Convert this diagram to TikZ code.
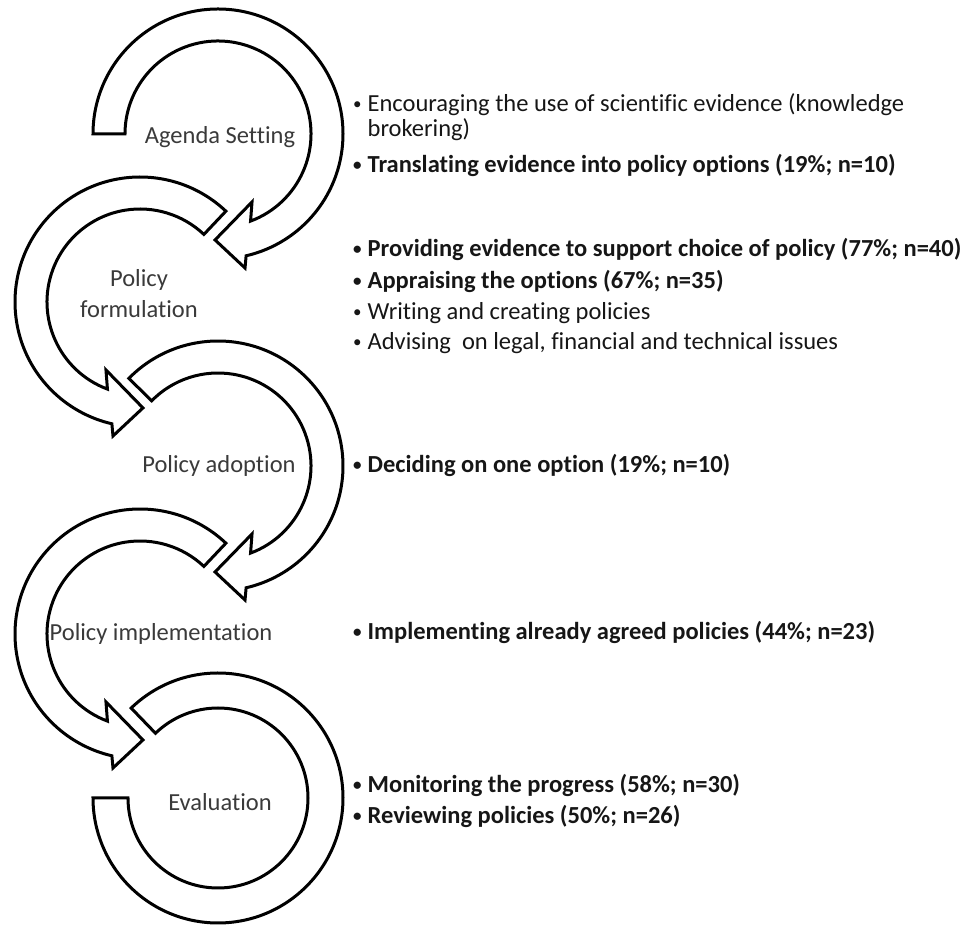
\documentclass[tikz,border=0pt]{standalone}
\usepackage{fontspec}
\setmainfont{Carlito}[Ligatures=NoCommon]
\usetikzlibrary{positioning}

\definecolor{labelgray}{HTML}{3A3A3A}
\definecolor{itemblack}{HTML}{161616}

% one circular arrow, centre at origin, running clockwise from #1
\newcommand{\cyclearrow}[1]{%
  (#1:125) arc[start angle=#1, end angle=-77, radius=125]
  -- (-78.6:136.7) -- (-91.6:106) -- (-63.4:76) -- (-69.5:93)
  arc[start angle=-69.5, end angle=#1, radius=93] -- cycle}
\newcommand{\dotmark}{\raisebox{2.6pt}{\fontsize{17}{17}\selectfont\textbullet}\hspace{6pt}}

\begin{document}
\begin{tikzpicture}[x=1pt, y=1pt,
            band/.style={draw=black, fill=white, line width=3pt, line join=miter},
            stage/.style={text=labelgray, font=\fontsize{24.5}{31}\selectfont, align=center, inner sep=0pt},
            item/.style={text=itemblack, anchor=base west, font=\fontsize{24.5}{25}\selectfont, align=left, inner sep=0pt},
            boldnote/.style={item, font=\fontsize{24.5}{25}\selectfont\bfseries},
            ]
    \useasboundingbox (0,0) rectangle (972,926);

    % the five stages
    \filldraw[band, shift={(218,792)}] \cyclearrow{180};
    \filldraw[band, shift={(140,624)}, xscale=-1] \cyclearrow{133.4};
    \filldraw[band, shift={(218,460)}] \cyclearrow{135.5};
    \filldraw[band, shift={(140,292)}, xscale=-1] \cyclearrow{133.4};
    \filldraw[band, shift={(218,128)}]
        (134:125) arc[start angle=134, end angle=-180, radius=125]
        -- (-180:90) arc[start angle=-180, end angle=134, radius=90] -- cycle;

    \node[stage] (agenda) at (220,789) {Agenda Setting};
    \node[stage] (formulation) at (139,632) {Policy\\formulation};
    \node[stage] (adoption) at (219,460) {Policy adoption};
    \node[stage] (implementation) at (161,292) {Policy implementation};
    \node[stage] (evaluation) at (220,124) {Evaluation};

    % roles
    \node[item] (encourage) at (353,789) {\dotmark Encouraging the use of scientific evidence (knowledge\\\phantom{\dotmark}brokering)};
    \node[boldnote] (translate) at (353,753) {\dotmark Translating evidence into policy options (19\%; n=10)};
    \node[boldnote] (provide) at (353,669) {\dotmark Providing evidence to support choice of policy (77\%; n=40)};
    \node[boldnote] (appraise) at (353,637) {\dotmark Appraising the options (67\%; n=35)};
    \node[item] (write) at (353,606) {\dotmark Writing and creating policies};
    \node[item] (advise) at (353,576) {\dotmark Advising\ \ on legal, financial and technical issues};
    \node[boldnote] (decide) at (353,453) {\dotmark Deciding on one option (19\%; n=10)};
    \node[boldnote] (implement) at (353,286) {\dotmark Implementing already agreed policies (44\%; n=23)};
    \node[boldnote] (monitor) at (353,133) {\dotmark Monitoring the progress (58\%; n=30)};
    \node[boldnote] (review) at (353,102) {\dotmark Reviewing policies (50\%; n=26)};
\end{tikzpicture}
\end{document}
